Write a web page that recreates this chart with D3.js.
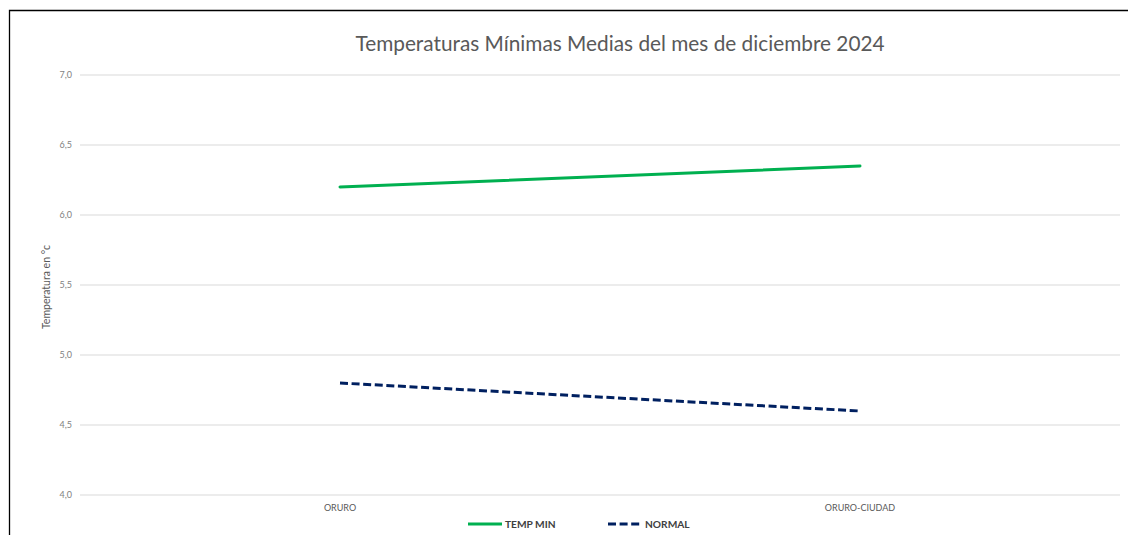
<!DOCTYPE html>
<html><head><meta charset="utf-8">
<script src="https://cdn.jsdelivr.net/npm/d3@7"></script>
<style>html,body{margin:0;padding:0;background:#fff;}svg{display:block;font-family:Lato,"Open Sans",sans-serif;}</style>
</head><body>
<script>
const categories = ["ORURO", "ORURO-CIUDAD"];
const tempMin = [6.2, 6.35];
const normal = [4.8, 4.6];
const yTicks = [4.0, 4.5, 5.0, 5.5, 6.0, 6.5, 7.0];
const seriesNames = ["TEMP MIN", "NORMAL"];
const title = "Temperaturas Mínimas Medias del mes de diciembre 2024";
const yLabel = "Temperatura en °c";

const W = 1128, H = 535;
const svg = d3.select("body").append("svg").attr("width", W).attr("height", H);
svg.append("rect").attr("width", W).attr("height", H).attr("fill", "#fff");

// outer border (left and top visible)
svg.append("path").attr("d", "M9.5,535 V10.5 H1128").attr("fill", "none").attr("stroke", "#000").attr("stroke-width", 1.3);

const x = d3.scaleBand().domain(categories).range([80, 1120]);
const y = d3.scaleLinear().domain([4, 7]).range([495, 75]);

// gridlines
svg.append("g").selectAll("line").data(yTicks).join("line")
  .attr("x1", 80).attr("x2", 1120)
  .attr("y1", d => y(d)).attr("y2", d => y(d))
  .attr("stroke", "#d9d9d9").attr("stroke-width", 1);

// y axis labels
const fmt = d => d.toFixed(1).replace(".", ",");
const yAxis = d3.axisLeft(y).tickValues(yTicks).tickFormat(fmt).tickSize(0).tickPadding(0);
const gy = svg.append("g").attr("transform", "translate(72,0)").call(yAxis);
gy.select(".domain").remove();
gy.selectAll("text").attr("fill", "#7f7f7f").style("font-size", "9px").style("font-family", "Lato, sans-serif");

// x axis labels
const xAxis = d3.axisBottom(x).tickSize(0).tickPadding(0);
const gx = svg.append("g").attr("transform", "translate(0,505)").call(xAxis);
gx.select(".domain").remove();
gx.selectAll("text").attr("fill", "#595959").style("font-size", "9px").style("font-family", "Lato, sans-serif");

// lines
const line = d3.line().x((d, i) => x(categories[i]) + x.bandwidth() / 2).y(d => y(d));
svg.append("path").datum(tempMin).attr("d", line)
  .attr("fill", "none").attr("stroke", "#00b050").attr("stroke-width", 3).attr("stroke-linecap", "round");
svg.append("path").datum(normal).attr("d", line)
  .attr("fill", "none").attr("stroke", "#002060").attr("stroke-width", 3)
  .attr("stroke-dasharray", "8,3.6");

// title
svg.append("text").attr("x", 620).attr("y", 51).attr("text-anchor", "middle")
  .attr("fill", "#595959").style("font-size", "20.8px").style("font-family", "Lato, sans-serif")
  .text(title);

// y label
svg.append("text").attr("transform", "translate(50,287) rotate(-90)").attr("text-anchor", "middle")
  .attr("fill", "#595959").style("font-size", "10.5px").style("font-family", "Lato, sans-serif")
  .text(yLabel);

// legend
const leg = svg.append("g");
leg.append("line").attr("x1", 468).attr("x2", 502).attr("y1", 524).attr("y2", 524)
  .attr("stroke", "#00b050").attr("stroke-width", 3);
leg.append("text").attr("x", 505).attr("y", 528).attr("fill", "#404040")
  .style("font-size", "10.2px").style("font-weight", "bold").style("font-family", "Lato, sans-serif")
  .text(seriesNames[0]);
leg.append("line").attr("x1", 608).attr("x2", 642).attr("y1", 524).attr("y2", 524)
  .attr("stroke", "#002060").attr("stroke-width", 3).attr("stroke-dasharray", "8,3.6");
leg.append("text").attr("x", 645).attr("y", 528).attr("fill", "#404040")
  .style("font-size", "10.2px").style("font-weight", "bold").style("font-family", "Lato, sans-serif")
  .text(seriesNames[1]);
</script>
</body></html>
